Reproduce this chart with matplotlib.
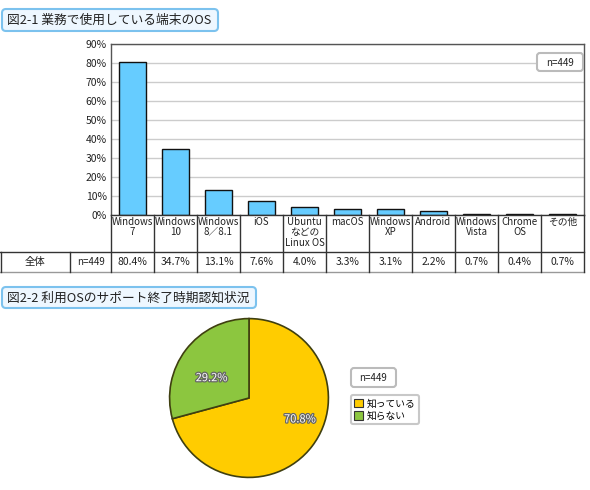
import matplotlib
matplotlib.use("Agg")
import matplotlib.pyplot as plt
from matplotlib.patches import FancyBboxPatch
import matplotlib.patheffects as pe
import matplotlib.transforms as mtrans

plt.rcParams['font.family'] = ['Noto Sans CJK JP', 'DejaVu Sans']

title1 = "図2-1 業務で使用している端末のOS"
title2 = "図2-2 利用OSのサポート終了時期認知状況"
categories = ["Windows\n7", "Windows\n10", "Windows\n8／8.1", "iOS",
              "Ubuntu\nなどの\nLinux OS", "macOS", "Windows\nXP", "Android",
              "Windows\nVista", "Chrome\nOS", "その他"]
values = [80.4, 34.7, 13.1, 7.6, 4.0, 3.3, 3.1, 2.2, 0.7, 0.4, 0.7]
yticks = [0, 10, 20, 30, 40, 50, 60, 70, 80, 90]
row_label = "全体"
n_label = "n=449"
pie_labels = ["知っている", "知らない"]
pie_values = [70.8, 29.2]
pie_colors = ["#FFCC00", "#8CC63F"]

W, H = 590, 490
fig = plt.figure(figsize=(W / 100, H / 100), dpi=100)
fig.patch.set_facecolor("white")

def fx(px):
    return px / W

def fy(py):
    return 1 - py / H

# overlay axes in pixel coords
ov = fig.add_axes([0, 0, 1, 1])
ov.set_xlim(0, W)
ov.set_ylim(H, 0)
ov.axis("off")
ov.set_zorder(5)
ov.patch.set_alpha(0)

# Title boxes
for (x0, y0, x1, y1, t) in [(2, 9, 218, 31, title1), (2, 287, 256, 308, title2)]:
    box = FancyBboxPatch((x0, y0), x1 - x0, y1 - y0,
                         boxstyle="round,pad=0,rounding_size=4",
                         fc="#EEF7FF", ec="#7CC2EE", lw=1.5)
    ov.add_patch(box)
    ov.text(x0 + 5, (y0 + y1) / 2 + 0.5, t, fontsize=9.2, va="center", ha="left",
            color="#222222")

# Bar chart axes
left, right, top, bottom = 111, 584, 44, 215
ax = fig.add_axes([fx(left), fy(bottom), fx(right - left), (bottom - top) / H])
x = list(range(len(categories)))
ax.bar(x, values, width=0.63, color="#66CCFF", edgecolor="#111111", linewidth=1, zorder=3)
ax.set_xlim(-0.5, len(categories) - 0.5)
ax.set_ylim(0, 90)
ax.set_yticks(yticks)
ax.set_yticklabels([f"{v}%" for v in yticks], fontsize=7.5, color="#222222")
ax.tick_params(axis="y", length=0, pad=3)
ax.set_xticks([])
ax.yaxis.grid(True, color="#CCCCCC", linewidth=1, zorder=0)
ax.set_axisbelow(True)
for s in ["left", "top", "right"]:
    ax.spines[s].set_color("#555555")
    ax.spines[s].set_linewidth(1)
ax.spines["bottom"].set_visible(False)

# Top-right n box
nb = FancyBboxPatch((537, 53), 46, 18, boxstyle="round,pad=0,rounding_size=3",
                    fc="white", ec="#BBBBBB", lw=1.5)
ov.add_patch(nb)
ov.text(560, 62.5, n_label, fontsize=7, ha="center", va="center", color="#222222")

# Table
row1_bottom, row2_bottom = 252, 272
lc = "#333333"
ov.plot([left, right], [bottom, bottom], color=lc, lw=1)
ov.plot([0, right], [row1_bottom, row1_bottom], color=lc, lw=1)
ov.plot([0, right], [row2_bottom, row2_bottom], color="#999999", lw=1)
ov.plot([0.5, 0.5], [row1_bottom, row2_bottom], color=lc, lw=1)
ov.plot([70, 70], [row1_bottom, row2_bottom], color=lc, lw=1)
ov.text(35, (row1_bottom + row2_bottom) / 2, row_label, fontsize=7.5, ha="center",
        va="center", color="#222222")
ov.text(90.5, (row1_bottom + row2_bottom) / 2, n_label, fontsize=7, ha="center",
        va="center", color="#222222")

trans = mtrans.blended_transform_factory(ax.transData, ov.transData)
for i in range(len(categories) + 1):
    ov.plot([i - 0.5, i - 0.5], [bottom, row2_bottom], color=lc, lw=1,
            transform=trans, clip_on=False)
for i, (c, v) in enumerate(zip(categories, values)):
    ov.text(i, bottom + 2, c, fontsize=7, ha="center", va="top", linespacing=1.05,
            color="#222222", transform=trans, clip_on=False)
    ov.text(i, (row1_bottom + row2_bottom) / 2, f"{v:.1f}%", fontsize=7.5, ha="center",
            va="center", color="#222222", transform=trans, clip_on=False)

# Pie chart
cx, cy, r = 249, 398, 81
pax = fig.add_axes([fx(cx - r), fy(cy + r), 2 * r / W, 2 * r / H])
wedges, texts, autotexts = pax.pie(
    pie_values, colors=pie_colors, startangle=90, counterclock=False,
    autopct=lambda p: f"{p:.1f}%", pctdistance=0.55,
    wedgeprops=dict(edgecolor="#3F3F10", linewidth=1.2),
    textprops=dict(fontsize=8, color="white"))
pax.set_xlim(-1.02, 1.02)
pax.set_ylim(-1.02, 1.02)
pax.set_aspect("equal")
label_pos = [(0.64, -0.27), (-0.47, 0.25)]
for t, p in zip(autotexts, label_pos):
    t.set_position(p)
    t.set_path_effects([pe.withStroke(linewidth=1.8, foreground="#666666")])

# pie n box
nb2 = FancyBboxPatch((351, 368), 45, 19, boxstyle="round,pad=0,rounding_size=3",
                     fc="white", ec="#BBBBBB", lw=1.5)
ov.add_patch(nb2)
ov.text(373.5, 377.5, n_label, fontsize=7, ha="center", va="center", color="#222222")

leg = fig.legend(wedges, pie_labels, loc="upper left",
                 bbox_to_anchor=(fx(351), fy(395)), fontsize=7,
                 handlelength=0.9, handleheight=0.9, handletextpad=0.4,
                 borderpad=0.35, labelspacing=0.25, fancybox=True,
                 frameon=True, borderaxespad=0)
leg.get_frame().set_edgecolor("#BBBBBB")
leg.get_frame().set_linewidth(1.5)
for h in leg.legend_handles:
    h.set_edgecolor("#333333")
    h.set_linewidth(0.8)

fig.savefig("out.png", dpi=100, facecolor="white")
